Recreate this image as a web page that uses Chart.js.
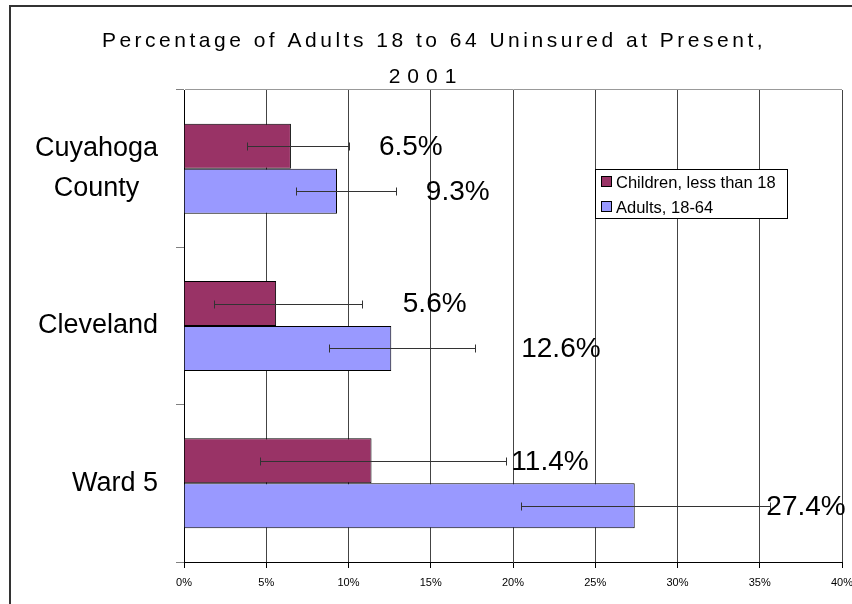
<!DOCTYPE html>
<html>
<head>
<meta charset="utf-8">
<script src="https://cdn.jsdelivr.net/npm/chart.js@4/dist/chart.umd.min.js"></script>
<style>
  html, body { margin: 0; padding: 0; background: #fff; }
  #wrap { width: 852px; height: 604px; }
</style>
</head>
<body>
<div id="wrap"><canvas id="grafica" width="852" height="604"></canvas></div>
<script>
// values (percent)
const categories = [['Cuyahoga', 'County'], 'Cleveland', 'Ward 5'];
const children = [6.5, 5.6, 11.4];
const adults = [9.3, 12.6, 27.4];
const childrenLow = [3.8, 1.8, 4.6];
const childrenHigh = [10.0, 10.8, 19.6];
const adultsLow = [6.8, 8.8, 20.5];
const adultsHigh = [12.9, 17.7, 35.6];
const titleLines = ['Percentage of Adults 18 to 64 Uninsured at Present,', '2001'];

const FONT = 'Arial, "Liberation Sans", sans-serif';

// frame, title, category labels, legend
const decor = {
    id: 'decor',
    beforeDraw(chart) {
        const ctx = chart.ctx;
        ctx.save();
        ctx.fillStyle = '#fff';
        ctx.fillRect(0, 0, chart.width, chart.height);
        ctx.strokeStyle = '#333';
        ctx.lineWidth = 2;
        ctx.strokeRect(10, 6, 900, 700);
        ctx.restore();
    },
    afterDraw(chart) {
        const ctx = chart.ctx;
        const y = chart.scales.y;
        ctx.save();
        // title
        ctx.fillStyle = '#000';
        ctx.font = '21px ' + FONT;
        ctx.letterSpacing = '3.5px';
        ctx.textAlign = 'center';
        ctx.textBaseline = 'alphabetic';
        ctx.fillText(titleLines[0], 434, 47);
        ctx.letterSpacing = '7px';
        ctx.fillText(titleLines[1], 426, 83);
        ctx.letterSpacing = '0px';

        // category labels
        ctx.font = '27px ' + FONT;
        ctx.textBaseline = 'middle';
        categories.forEach((c, j) => {
            const lines = Array.isArray(c) ? c : [c];
            const w = Math.max(...lines.map(l => ctx.measureText(l).width));
            const cx = 158 - w / 2;
            const cy = y.getPixelForValue(j);
            lines.forEach((l, k) => {
                ctx.fillText(l, cx, cy + (k - (lines.length - 1) / 2) * 40);
            });
        });

        // legend
        ctx.fillStyle = '#fff';
        ctx.fillRect(595.5, 169.5, 192, 49);
        ctx.strokeStyle = '#000';
        ctx.lineWidth = 1;
        ctx.strokeRect(595.5, 169.5, 192, 49);
        ctx.font = '16.5px ' + FONT;
        ctx.textAlign = 'left';
        chart.data.datasets.forEach((ds, i) => {
            const ry = 182 + i * 25;
            ctx.fillStyle = ds.backgroundColor;
            ctx.fillRect(601.5, ry - 5.5, 10, 10);
            ctx.strokeRect(601.5, ry - 5.5, 10, 10);
            ctx.fillStyle = '#000';
            ctx.fillText(ds.label, 616, ry + 1);
        });
        ctx.restore();
    }
};

// error bars and value labels
const errorBars = {
    id: 'errorBars',
    afterDatasetsDraw(chart, args, opts) {
        const ctx = chart.ctx;
        const x = chart.scales.x;
        chart.data.datasets.forEach((ds, i) => {
            const meta = chart.getDatasetMeta(i);
            meta.data.forEach((bar, j) => {
                const x0 = Math.round(x.getPixelForValue(ds.errLow[j])) + 0.5;
                const x1 = Math.round(x.getPixelForValue(ds.errHigh[j])) + 0.5;
                const by = Math.round(bar.y) + 0.5;
                ctx.save();
                ctx.strokeStyle = '#333';
                ctx.lineWidth = 1;
                ctx.beginPath();
                ctx.moveTo(x0, by); ctx.lineTo(x1, by);
                ctx.moveTo(x0, by - 4); ctx.lineTo(x0, by + 4);
                ctx.moveTo(x1, by - 4); ctx.lineTo(x1, by + 4);
                ctx.stroke();
                ctx.fillStyle = '#000';
                ctx.font = '28px ' + FONT;
                ctx.textAlign = 'left';
                ctx.textBaseline = 'middle';
                ctx.fillText(ds.data[j].toFixed(1) + '%', x.getPixelForValue(opts.labelAt[i][j]), bar.y + 1);
                ctx.restore();
            });
        });
    }
};

const databa = {
    labels: categories,
    datasets: [{
            label: 'Children, less than 18',
            data: children,
            errLow: childrenLow,
            errHigh: childrenHigh,
            backgroundColor: '#993366',
            borderColor: '#000',
            borderWidth: 1
        },
        {
            label: 'Adults, 18-64',
            data: adults,
            errLow: adultsLow,
            errHigh: adultsHigh,
            backgroundColor: '#9999FF',
            borderColor: '#000',
            borderWidth: 1
        }
    ]
};

const cfg = {
    type: 'bar',
    data: databa,
    plugins: [decor, errorBars],
    options: {
        indexAxis: 'y',
        responsive: false,
        animation: false,
        layout: {padding: {top: 90, left: 0, right: 10, bottom: 0}},
        datasets: {bar: {categoryPercentage: 0.572, barPercentage: 1}},
        plugins: {
            legend: {display: false},
            title: {display: false},
            tooltip: {enabled: false},
            errorBars: {labelAt: [[11.85, 13.3, 19.9], [14.7, 20.5, 35.4]]}
        },
        scales: {
            x: {
                min: 0,
                max: 40,
                ticks: {
                    stepSize: 5,
                    color: '#000',
                    padding: 8,
                    maxRotation: 0,
                    font: {family: FONT, size: 11},
                    callback: v => v + '%'
                },
                grid: {color: '#444', tickColor: '#000', tickLength: 6},
                border: {color: '#000'},
                afterFit(s) {
                    s.height = 42;
                    s.paddingLeft = 0;
                    s.paddingRight = 0;
                }
            },
            y: {
                ticks: {display: false},
                grid: {
                    offset: true,
                    tickLength: 8,
                    tickColor: '#808080',
                    color: c => c.index === 0 ? '#999' : 'rgba(0,0,0,0)'
                },
                border: {color: '#000'},
                afterFit(s) {
                    s.width = 184;
                    s.paddingTop = 0;
                    s.paddingBottom = 0;
                }
            }
        }
    }
};

new Chart(document.getElementById('grafica'), cfg);
</script>
</body>
</html>
